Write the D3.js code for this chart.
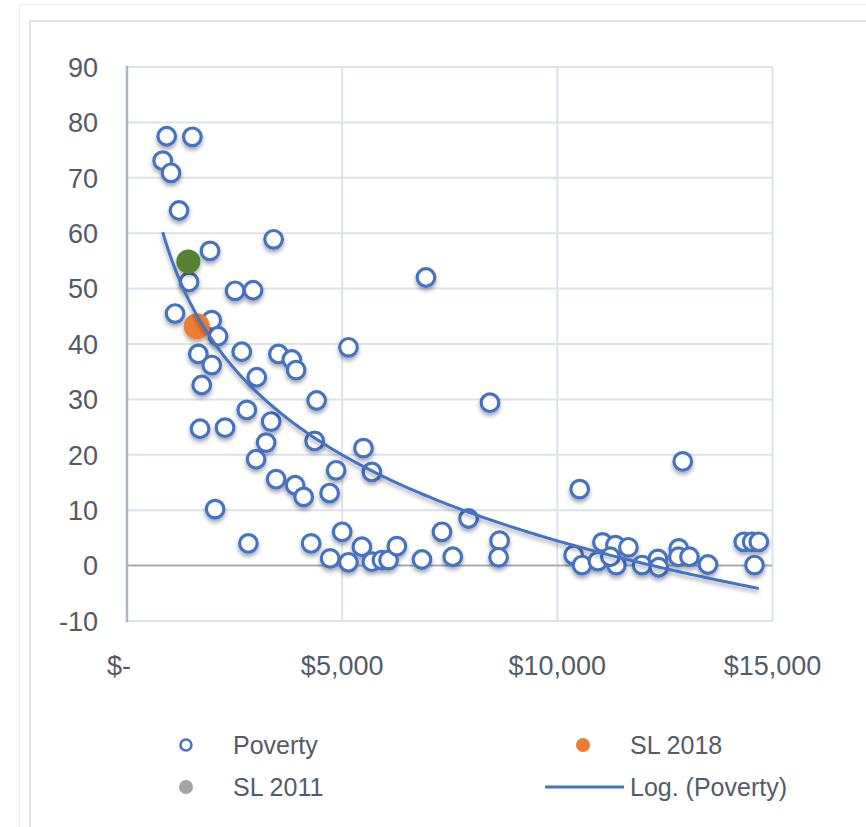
<!DOCTYPE html>
<html>
<head>
<meta charset="utf-8">
<script src="https://cdn.jsdelivr.net/npm/d3@7/dist/d3.min.js"></script>
<style>
  html, body { margin: 0; padding: 0; background: #ffffff; }
  svg { display: block; }
  text { font-family: "Liberation Sans", Arial, sans-serif; fill: #545b67; }
</style>
</head>
<body>
<svg id="chart" width="866" height="827"></svg>
<script>
// ---- Data ----
const gdpPerCapita = [
  923, 1519, 830, 1023, 1209, 3407, 1930, 1442, 2512, 2930,
  1116, 1970, 2116, 1658, 2667, 1970, 3519, 3830, 3930, 3016,
  1737, 4407, 2784, 1698, 2279, 3349, 3233, 4361, 3000, 3465,
  3907, 4105, 4860, 4709, 5495, 5691, 5147, 2047, 2821, 4279,
  5000, 4721, 5147, 5458, 5691, 5923, 6077, 6272, 6854, 7319,
  7570, 7937, 8658, 8635, 6947, 8435, 10519, 12914, 10379, 10574,
  11047, 10942, 11349, 11372, 11651, 11233, 11970, 12337, 12356, 12821,
  12814, 13070, 13500, 14333, 14528, 14682, 14582
];
const povertyRate = [
  77.5, 77.4, 73.1, 70.9, 64.1, 58.9, 56.8, 51.2, 49.6, 49.7,
  45.5, 44.3, 41.4, 38.2, 38.6, 36.2, 38.2, 37.2, 35.3, 34.0,
  32.6, 29.8, 28.1, 24.7, 24.9, 26.0, 22.2, 22.5, 19.2, 15.6,
  14.5, 12.4, 17.2, 13.1, 21.2, 16.9, 39.4, 10.2, 4.0, 4.0,
  6.1, 1.3, 0.6, 3.4, 0.7, 1.0, 1.0, 3.5, 1.1, 6.1,
  1.6, 8.5, 4.5, 1.5, 52.0, 29.4, 13.8, 18.8, 1.9, 0.1,
  4.2, 0.8, 3.7, 0.1, 3.3, 1.6, 0.1, 1.2, -0.3, 3.1,
  1.6, 1.6, 0.2, 4.3, 4.3, 4.3, 0.1
];
const sl2011 = [{ x: 1426, y: 54.9 }];
const sl2018 = [{ x: 1621, y: 43.2 }];

const xTickValues = [0, 5000, 10000, 15000];
const xTickLabels = ["$-", "$5,000", "$10,000", "$15,000"];
const yTickValues = [-10, 0, 10, 20, 30, 40, 50, 60, 70, 80, 90];
const legendLabels = ["Poverty", "SL 2018", "SL 2011", "Log. (Poverty)"];

// ---- Setup ----
const svg = d3.select("#chart");
const blue = "#4472C4";
const orange = "#ED7D31";
const green = "#548235";
const gray = "#a5a5a5";

const x = d3.scaleLinear().domain([0, 15000]).range([127, 772.5]);
const y = d3.scaleLinear().domain([-10, 90]).range([621, 67]);

// shadow filter
const defs = svg.append("defs");
const f = defs.append("filter").attr("id", "shadow")
  .attr("x", "-50%").attr("y", "-50%").attr("width", "200%").attr("height", "200%");
f.append("feDropShadow").attr("dx", 0).attr("dy", 3).attr("stdDeviation", 2.2)
  .attr("flood-color", "#000").attr("flood-opacity", 0.35);

// outer frames
svg.append("rect").attr("x", 19.5).attr("y", 4.5).attr("width", 900).attr("height", 900)
  .attr("fill", "none").attr("stroke", "#e9ecf0").attr("stroke-width", 1);
svg.append("rect").attr("x", 30).attr("y", 21).attr("width", 900).attr("height", 900)
  .attr("fill", "none").attr("stroke", "#dfe4ea").attr("stroke-width", 2);

// gridlines
const grid = svg.append("g");
grid.selectAll("line.h").data(yTickValues.filter(v => v !== 0)).enter().append("line")
  .attr("x1", x(0)).attr("x2", x(15000))
  .attr("y1", d => y(d)).attr("y2", d => y(d))
  .attr("stroke", "#dde3ea").attr("stroke-width", 2);
grid.selectAll("line.v").data(xTickValues.filter(v => v !== 0)).enter().append("line")
  .attr("y1", y(-10)).attr("y2", y(90))
  .attr("x1", d => x(d)).attr("x2", d => x(d))
  .attr("stroke", "#dde3ea").attr("stroke-width", 2);

// zero line
svg.append("line").attr("x1", x(0)).attr("x2", x(15000))
  .attr("y1", y(0)).attr("y2", y(0))
  .attr("stroke", "#a3adba").attr("stroke-width", 2);
// left axis line
svg.append("line").attr("x1", x(0)).attr("x2", x(0))
  .attr("y1", y(-10) + 1).attr("y2", y(90) - 1)
  .attr("stroke", "#a9b6c6").attr("stroke-width", 2.5);

// y tick labels
svg.append("g").selectAll("text").data(yTickValues).enter().append("text")
  .attr("x", 98).attr("y", d => y(d)).attr("dy", "0.36em")
  .attr("text-anchor", "end").attr("font-size", 27)
  .text(d => d);

// x tick labels
svg.append("g").selectAll("text").data(xTickValues).enter().append("text")
  .attr("x", (d, i) => x(d) + (i === 0 ? -8 : 0)).attr("y", 665).attr("dy", "0.36em")
  .attr("text-anchor", "middle").attr("font-size", 27)
  .text((d, i) => xTickLabels[i]);

// poverty markers
const pts = gdpPerCapita.map((g, i) => ({ x: g, y: povertyRate[i] }));
svg.append("g").attr("filter", "url(#shadow)").selectAll("circle").data(pts).enter().append("circle")
  .attr("cx", d => x(d.x)).attr("cy", d => y(d.y)).attr("r", 8.8)
  .attr("fill", "#ffffff").attr("stroke", blue).attr("stroke-width", 3.2);

// SL points
svg.append("g").attr("filter", "url(#shadow)").selectAll("circle").data(sl2011).enter().append("circle")
  .attr("cx", d => x(d.x)).attr("cy", d => y(d.y)).attr("r", 12)
  .attr("fill", green);
svg.append("g").attr("filter", "url(#shadow)").selectAll("circle").data(sl2018).enter().append("circle")
  .attr("cx", d => x(d.x)).attr("cy", d => y(d.y)).attr("r", 13)
  .attr("fill", orange);

// logarithmic trendline (least squares on ln x, as Excel does)
const lx = pts.map(p => Math.log(p.x));
const mx = d3.mean(lx), my = d3.mean(pts, p => p.y);
let sxy = 0, sxx = 0;
pts.forEach((p, i) => { sxy += (lx[i] - mx) * (p.y - my); sxx += (lx[i] - mx) ** 2; });
const a = sxy / sxx, b = my - a * mx;
const xmin = d3.min(gdpPerCapita), xmax = d3.max(gdpPerCapita);
const trend = d3.range(0, 201).map(k => {
  const xv = xmin + (xmax - xmin) * k / 200;
  return { x: xv, y: a * Math.log(xv) + b };
});
svg.append("path").datum(trend)
  .attr("d", d3.line().x(d => x(d.x)).y(d => y(d.y)).curve(d3.curveLinear))
  .attr("fill", "none").attr("stroke", blue).attr("stroke-width", 3)
  .attr("filter", "url(#shadow)");

// legend
const lg = svg.append("g");
lg.append("circle").attr("cx", 186).attr("cy", 745).attr("r", 5.5)
  .attr("fill", "#fff").attr("stroke", blue).attr("stroke-width", 2.5);
lg.append("text").attr("x", 233).attr("y", 745).attr("dy", "0.36em").attr("font-size", 25).text(legendLabels[0]);
lg.append("circle").attr("cx", 583).attr("cy", 745).attr("r", 7).attr("fill", orange);
lg.append("text").attr("x", 630).attr("y", 745).attr("dy", "0.36em").attr("font-size", 25).text(legendLabels[1]);
lg.append("circle").attr("cx", 186).attr("cy", 787).attr("r", 7).attr("fill", gray);
lg.append("text").attr("x", 233).attr("y", 787).attr("dy", "0.36em").attr("font-size", 25).text(legendLabels[2]);
lg.append("line").attr("x1", 545).attr("x2", 624).attr("y1", 787).attr("y2", 787)
  .attr("stroke", blue).attr("stroke-width", 3);
lg.append("text").attr("x", 630).attr("y", 787).attr("dy", "0.36em").attr("font-size", 25).text(legendLabels[3]);
</script>
</body>
</html>
